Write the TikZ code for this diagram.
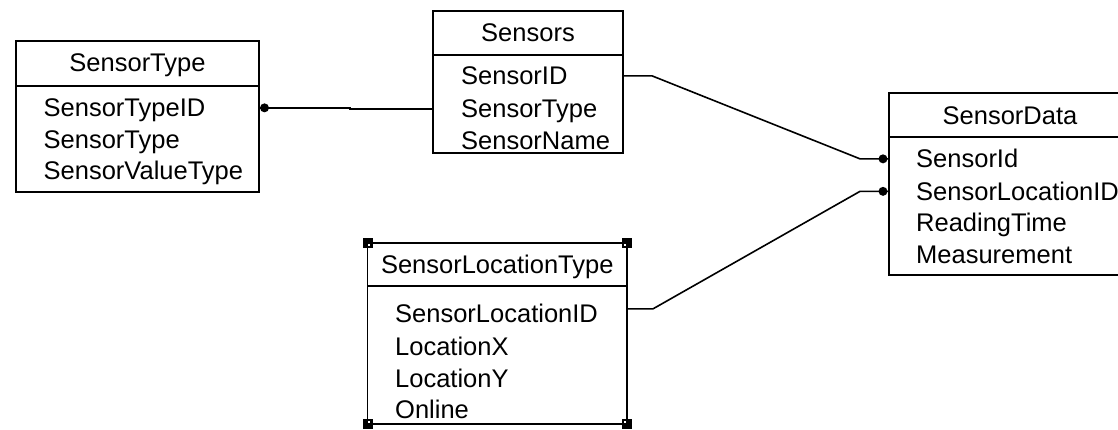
\documentclass[tikz,border=0pt]{standalone}
\usepackage{fontspec}
\setmainfont{Liberation Sans}
\usetikzlibrary{calc}
\begin{document}
\begin{tikzpicture}[x=1pt,y=-1pt,
  font=\fontsize{25.5pt}{30pt}\selectfont,
  tbl/.style={draw, line width=1.7pt, rectangle, inner sep=0pt, outer sep=0pt, anchor=north west},
  rule/.style={line width=1.7pt},
  ttl/.style={anchor=base, inner sep=0pt},
  fld/.style={anchor=base west, inner sep=0pt, text height=18.3pt, text depth=0pt},
  conn/.style={line width=1.6pt},
  fkdot/.style={fill=black},
  handle/.style={fill=black}]
\useasboundingbox (0,0) rectangle (1118,430);
\clip (0,0) rectangle (1118,430);

% SensorType
\node[tbl, minimum width=243pt, minimum height=151pt] (st) at (16,41) {};
\draw[rule] (st.west |- 0,86) -- (st.east |- 0,86);
\node[ttl] (stt) at (st.center |- 0,72) {SensorType};
\node[fld] (st1) at (43.5,117) {SensorTypeID};
\node[fld] (st2) at (43.5,148.5) {SensorType};
\node[fld] (st3) at (43.5,180) {SensorValueType};

% Sensors
\node[tbl, minimum width=190pt, minimum height=142pt] (se) at (433,11) {};
\draw[rule] (se.west |- 0,55) -- (se.east |- 0,55);
\node[ttl] (set) at (se.center |- 0,42) {Sensors};
\node[fld] (se1) at (461,85) {SensorID};
\node[fld] (se2) at (461,118) {SensorType};
\node[fld] (se3) at (461,150) {SensorName};

% SensorData
\node[tbl, minimum width=242pt, minimum height=182pt] (sd) at (889,93) {};
\draw[rule] (sd.west |- 0,137) -- (sd.east |- 0,137);
\node[ttl] (sdt) at (sd.center |- 0,125) {SensorData};
\node[fld] (sd1) at (916,168) {SensorId};
\node[fld] (sd2) at (916,200.5) {SensorLocationID};
\node[fld] (sd3) at (916,232) {ReadingTime};
\node[fld] (sd4) at (916,263) {Measurement};

% SensorLocationType (selected, with corner handles)
\node[tbl, minimum width=259.5pt, minimum height=181pt] (slt) at (367.5,243) {};
\draw[rule] (slt.west |- 0,286) -- (slt.east |- 0,286);
\node[ttl] (sltt) at (slt.center |- 0,273) {SensorLocationType};
\node[fld] (slt1) at (395,322) {SensorLocationID};
\node[fld] (slt2) at (395,355) {LocationX};
\node[fld] (slt3) at (395,387) {LocationY};
\node[fld] (slt4) at (395,418) {Online};
\foreach \c in {north west, north east, south west, south east}
  \fill[handle] (slt.\c) ++(-5,-5) rectangle ++(10,10);
\fill[white] (slt.north west) ++(0.6,0.6) rectangle ++(2,2);
\fill[white] (slt.north east) ++(-0.6,0.6) rectangle ++(-2,2);
\fill[white] (slt.south west) ++(0.6,-0.6) rectangle ++(2,-2);
\fill[white] (slt.south east) ++(-0.6,-0.6) rectangle ++(-2,-2);

% Relationships
\draw[conn] (st.east |- st1) -- ++(91,0) |- (se.west |- se2);
\fill[fkdot] ($(st.east |- st1)+(5.5,0)$) circle (4.5pt);

\draw[conn] (se.east |- se1) -- ++(29,0) -- ($(sd.west |- sd1)+(-29,0)$) -- (sd.west |- sd1);
\fill[fkdot] ($(sd.west |- sd1)+(-6,0)$) circle (4.5pt);

\coordinate (sltport) at ($(slt.east |- slt1)+(0,-4)$);
\draw[conn] (sltport) -- ++(26,0) -- ($(sd.west |- sd2)+(-29,0)$) -- (sd.west |- sd2);
\fill[fkdot] ($(sd.west |- sd2)+(-6,0)$) circle (4.5pt);
\end{tikzpicture}
\end{document}
